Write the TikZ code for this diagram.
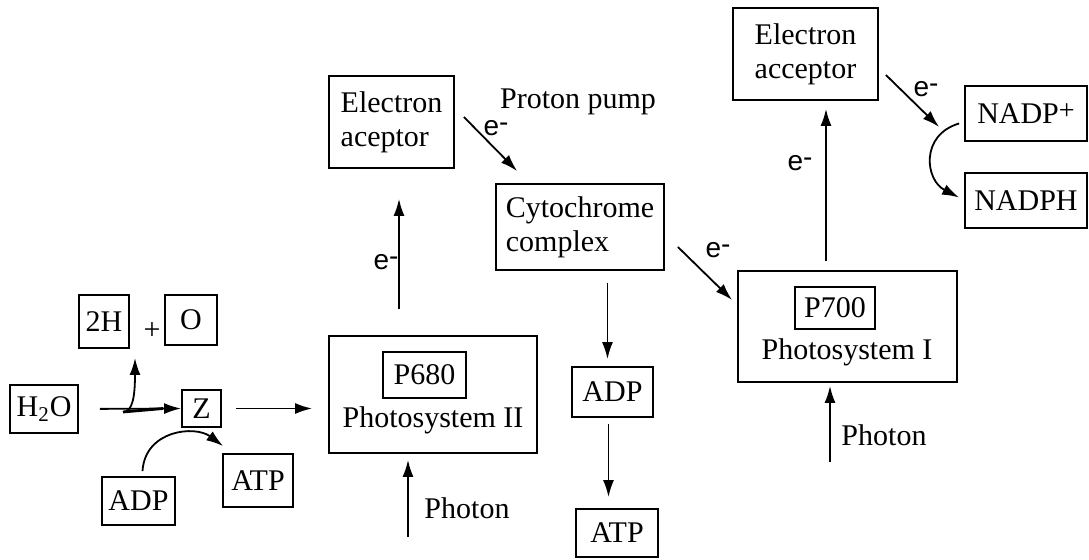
\documentclass[tikz,border=0pt]{standalone}
\usepackage{fontspec}
\setmainfont{Liberation Serif}
\newfontfamily\esans{Liberation Sans}
\usetikzlibrary{arrows.meta,calc}
\begin{document}
\begin{tikzpicture}[x=0.5pt,y=-0.5pt,
  box/.style={draw, line width=0.9pt, inner sep=0pt, font=\fontsize{15}{17}\selectfont},
  lbl/.style={inner sep=0pt, font=\fontsize{15}{17}\selectfont},
  elbl/.style={inner sep=0pt, font=\esans\fontsize{14}{14}\selectfont},
  arr/.style={-{Latex[length=8.5pt,width=5.5pt]}, line width=0.9pt}]
\useasboundingbox (0,0) rectangle (1089,560);
% nodes
\node[box, minimum width=34pt, minimum height=24pt] (h2o) at (44,409) {H\textsubscript{2}O};
\node[box, minimum width=25pt, minimum height=26.5pt] (twoH) at (104,321.5) {2H};
\node[lbl] (plus) at (152,331) {+};
\node[box, minimum width=26pt, minimum height=25pt] (oxy) at (191,320) {O};
\node[box, minimum width=19.5pt, minimum height=18.5pt] (zz) at (201.5,408.5) {Z};
\node[box, minimum width=35pt, minimum height=26.5pt] (atpL) at (258,480.5) {ATP};
\node[box, minimum width=36.5pt, minimum height=24pt] (adpL) at (138.5,501) {ADP};
\node[box, minimum width=104pt, minimum height=58.5pt] (psII) at (433,394.5) {};
\node[box, minimum width=41.5pt, minimum height=23pt] (p680) at (424.5,375) {P680};
\node[lbl] (ps2t) at (433,420) {Photosystem II};
\node[box, minimum width=62.5pt, minimum height=46pt, align=left] (eaL) at (391.5,122) {Electron\\aceptor};
\node[lbl] (pp) at (578,102) {Proton pump};
\node[box, minimum width=84pt, minimum height=43pt, align=left] (cyto) at (580,227) {Cytochrome\\complex};
\node[box, minimum width=40.5pt, minimum height=25pt] (adpM) at (612.5,392) {ADP};
\node[box, minimum width=41pt, minimum height=24pt] (atpM) at (617,533) {ATP};
\node[box, minimum width=109.5pt, minimum height=55.5pt] (psI) at (847.5,326.5) {};
\node[box, minimum width=40pt, minimum height=21pt] (p700) at (835,308) {P700};
\node[lbl] (ps1t) at (847,352) {Photosystem I};
\node[box, minimum width=72.5pt, minimum height=46pt, align=left] (eaR) at (805.5,54) {Electron\\acceptor};
\node[box, minimum width=61pt, minimum height=27.5pt] (nadpP) at (1026,113.5) {NADP\raisebox{.3ex}{\fontsize{14}{14}\selectfont +}};
\node[box, minimum width=61pt, minimum height=27.5pt] (nadph) at (1026,200.5) {NADPH};
\node[lbl] (phot2) at (467,508) {Photon};
\node[lbl] (phot1) at (884,435) {Photon};
\node[elbl] (e1) at (386,262) {e\raisebox{.25ex}{-}};
\node[elbl] (e2) at (496,128) {e\raisebox{.25ex}{-}};
\node[elbl] (e3) at (718,250) {e\raisebox{.25ex}{-}};
\node[elbl] (e4) at (800,163) {e\raisebox{.25ex}{-}};
\node[elbl] (e5) at (926,89) {e\raisebox{.25ex}{-}};
% connectors
\coordinate (j1) at (123,412);
\coordinate (t2h) at (135,358);
\coordinate (ph2) at (408,537);
\coordinate (ph1) at (830,462);
\draw[arr, shorten <=10.5pt] (h2o.east) -- (zz.west);
\draw[line width=1.4pt] (j1) -- ($(zz.west)+(-18,0)$);
\draw[arr] (j1) .. controls (133,412) and (135,395) .. (t2h);
\draw[arr] ($(adpL.north)+(4,-5)$) .. controls (145,430) and (195,425) .. ($(atpL.north west)+(1,-7)$);
\draw[arr, shorten <=7pt, shorten >=8pt] (zz.east) -- (zz.east -| psII.west);
\draw[arr, shorten >=3pt] (ph2) -- (ph2 |- psII.south);
\draw[arr, shorten <=13pt, shorten >=15pt] ($(eaL.south |- psII.north)+(7.5,0)$) -- ($(eaL.south)+(7.5,0)$);
\draw[arr] ($(eaL.east)+(9,-5)$) -- ($(cyto.north west)+(22,-12)$);
\draw[arr] ($(cyto.east)+(13,20)$) -- ($(psI.west)+(-5,-26.5)$);
\draw[arr, shorten <=6pt, shorten >=3.5pt] ($(adpM.north |- cyto.south)+(-5,0)$) -- ($(adpM.north)+(-5,0)$);
\draw[arr, shorten <=3pt, shorten >=5.5pt] ($(adpM.south)+(-4,0)$) -- ($(adpM.south |- atpM.north)+(-4,0)$);
\draw[arr, shorten >=1.5pt] (ph1) -- (ph1 |- psI.south);
\draw[arr, shorten <=4.5pt, shorten >=4pt] ($(eaR.south |- psI.north)+(20.5,0)$) -- ($(eaR.south)+(20.5,0)$);
\draw[arr] ($(eaR.east)+(7,21)$) -- ($(nadpP.west)+(-25,13.5)$);
\draw[arr] ($(nadpP.west)+(-5,10)$) .. controls (920,135) and (925,180) .. ($(nadph.west)+(-5,-3)$);
\end{tikzpicture}
\end{document}
